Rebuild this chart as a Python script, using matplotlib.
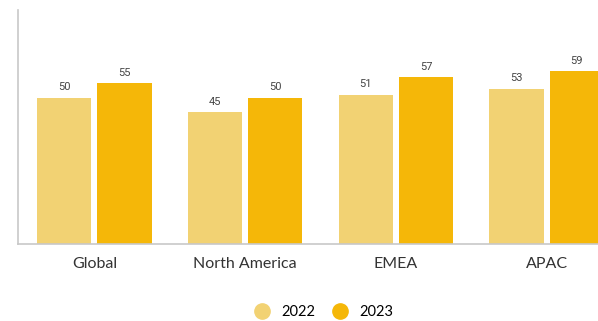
import matplotlib
matplotlib.use('Agg')
import matplotlib.pyplot as plt
import numpy as np
from matplotlib.lines import Line2D

regions = ["Global", "North America", "EMEA", "APAC"]
vals_2022 = [50, 45, 51, 53]
vals_2023 = [55, 50, 57, 59]
years = ["2022", "2023"]

col_2022 = '#F2D273'
col_2023 = '#F5B708'

fig = plt.figure(figsize=(5.98, 3.21), dpi=100)
ax = fig.add_axes([18/598, 77/321, 580/598, 234/321])

x = np.arange(len(regions))
w = 0.36
b1 = ax.bar(x - 0.2, vals_2022, w, color=col_2022)
b2 = ax.bar(x + 0.2, vals_2023, w, color=col_2023)

# value labels above each bar
for bars, vals in ((b1, vals_2022), (b2, vals_2023)):
    for rect, v in zip(bars, vals):
        ax.annotate(str(v), (rect.get_x() + rect.get_width() / 2, v),
                    xytext=(0, 4), textcoords='offset points',
                    ha='center', va='bottom', fontsize=8,
                    family='Roboto', color='#444444')

ax.set_xlim(-0.507, 3.34)
ax.set_ylim(0, 80)
ax.set_yticks([])
ax.set_xticks(x)
ax.set_xticklabels(regions, fontsize=11.5, family='Lato', color='#333333')
ax.tick_params(axis='x', length=0, pad=9)

for side in ('top', 'right'):
    ax.spines[side].set_visible(False)
for side in ('left', 'bottom'):
    ax.spines[side].set_color('#C8C8C8')
    ax.spines[side].set_linewidth(1.2)

handles = [Line2D([], [], marker='o', linestyle='', markersize=11,
                  markerfacecolor=c, markeredgecolor=c)
           for c in (col_2022, col_2023)]
fig.legend(handles, years, loc='center', bbox_to_anchor=(0.536, 0.028),
           ncol=2, frameon=False, handletextpad=0.3, columnspacing=0.7,
           prop={'family': 'Lato', 'size': 10.5})

fig.savefig('out.png', dpi=100)
